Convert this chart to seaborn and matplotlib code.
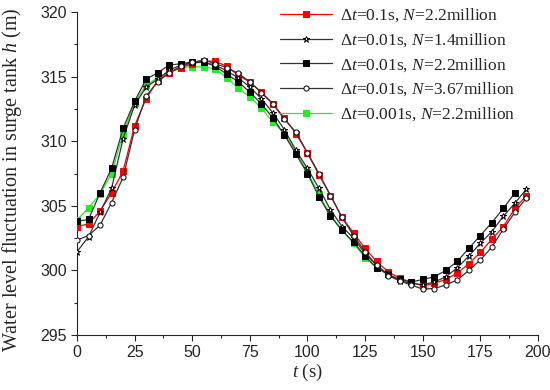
import matplotlib
matplotlib.use("Agg")
import matplotlib.pyplot as plt
import seaborn as sns
import numpy as np
from matplotlib.ticker import MultipleLocator

# time axis (s), sampled every 5 s
t_full = list(range(0, 200, 5))          # 0 .. 195
t_black = list(range(0, 195, 5))         # 0 .. 190
t_green = list(range(0, 135, 5))         # 0 .. 130

h_dt01_n22 = [303.4, 303.6, 304.6, 306.0, 307.7, 311.2, 313.3, 314.7, 315.3, 315.7,
              316.0, 316.2, 316.2, 315.8, 315.1, 314.6, 313.8, 312.9, 311.8, 310.6,
              309.1, 307.4, 305.8, 304.1, 302.9, 301.7, 300.7, 299.9, 299.4, 299.1,
              298.8, 299.0, 299.3, 299.8, 300.5, 301.4, 302.4, 303.4, 304.8, 305.8]
h_dt001_n14 = [301.45, 302.6, 304.5, 306.35, 310.2, 312.8, 314.2, 314.8, 315.5, 315.9,
               316.1, 316.1, 315.9, 315.45, 314.9, 314.2, 313.3, 312.2, 310.9, 309.3,
               307.9, 306.35, 304.7, 303.4, 302.5, 301.3, 300.4, 299.7, 299.2, 299.0,
               298.9, 299.1, 299.5, 300.2, 301.1, 302.1, 303.0, 304.2, 305.2, 306.3]
h_dt001_n22 = [303.8, 303.95, 306.0, 307.9, 311.0, 313.1, 314.8, 315.3, 315.9, 316.0,
               316.15, 316.15, 315.8, 315.2, 314.6, 313.8, 312.9, 311.8, 310.5, 309.0,
               307.5, 305.7, 304.2, 303.1, 302.2, 301.1, 300.2, 299.7, 299.3, 299.1,
               299.3, 299.5, 300.0, 300.7, 301.7, 302.7, 303.7, 304.8, 306.0]
h_dt001_n367 = [302.35, 302.7, 303.5, 305.25, 307.2, 310.9, 313.5, 314.6, 315.3, 315.8,
                316.1, 316.3, 316.0, 315.7, 315.25, 314.6, 313.75, 312.9, 311.7, 310.7,
                309.1, 307.5, 305.8, 304.1, 302.7, 301.45, 300.4, 299.6, 299.2, 298.87,
                298.56, 298.6, 298.87, 299.26, 300.0, 300.8, 301.8, 303.2, 304.5, 305.6]
h_dt0001_n22 = [303.9, 304.85, 305.9, 307.5, 310.6, 313.0, 314.35, 314.9, 315.35, 315.7,
                315.77, 315.77, 315.6, 314.9, 314.1, 313.45, 312.55, 311.5, 310.6, 309.2,
                307.6, 305.9, 304.3, 303.1, 302.1, 301.0, 300.2]

labels = [r"Δ$t$=0.1s, $N$=2.2million",
          r"Δ$t$=0.01s, $N$=1.4million",
          r"Δ$t$=0.01s, $N$=2.2million",
          r"Δ$t$=0.01s, $N$=3.67million",
          r"Δ$t$=0.001s, $N$=2.2million"]

sns.set_style("ticks")
plt.rcParams["font.family"] = ["Liberation Serif", "DejaVu Serif"]
plt.rcParams["mathtext.fontset"] = "custom"
plt.rcParams["mathtext.it"] = "Liberation Serif:italic"
plt.rcParams["mathtext.rm"] = "Liberation Serif"

fig = plt.figure(figsize=(5.5, 3.9), dpi=100)
ax = fig.add_axes([0.14, 0.141, 0.838, 0.828])

series = [
    (t_full, h_dt01_n22, "#ff0000", "s", "#ff0000", 3.0),
    (t_full, h_dt001_n14, "#333333", "*", "white", 3.2),
    (t_black, h_dt001_n22, "#333333", "s", "black", 3.4),
    (t_full, h_dt001_n367, "#333333", "o", "white", 3.6),
    (t_green, h_dt0001_n22, "#22ee22", "s", "#22ee22", 2.8),
]
for (x, y, col, mk, fc, z), lab in zip(series, labels):
    sns.lineplot(x=x, y=y, ax=ax, color=col, marker=mk, markersize=4.6 if mk == "*" else 3.7,
                 markerfacecolor=fc, markeredgecolor="black" if fc in ("white", "black") else col,
                 markeredgewidth=0.7, linewidth=0.9, label=lab, zorder=z)

ax.set_xlim(0, 200)
ax.set_ylim(295, 320)
ax.xaxis.set_major_locator(MultipleLocator(25))
ax.xaxis.set_minor_locator(MultipleLocator(12.5))
ax.yaxis.set_major_locator(MultipleLocator(5))
ax.yaxis.set_minor_locator(MultipleLocator(2.5))
ax.tick_params(which="major", direction="out", length=4, width=0.8, labelsize=11.5)
ax.tick_params(which="minor", direction="out", length=2.5, width=0.8)
for lbl in ax.get_xticklabels() + ax.get_yticklabels():
    lbl.set_family("Liberation Sans")
sns.despine(ax=ax)

ax.set_xlabel(r"$t$ (s)", fontsize=13.5, labelpad=1)
ax.set_ylabel(r"Water level fluctuation in surge tank $h$ (m)", fontsize=14.5, labelpad=3)
ax.yaxis.set_label_coords(-0.115, 0.48)

leg = ax.legend(loc="upper right", bbox_to_anchor=(0.985, 1.065), frameon=False, fontsize=12.5,
                handlelength=3.0, labelspacing=0.4, handletextpad=0.45)

fig.savefig("out.png", dpi=100)
